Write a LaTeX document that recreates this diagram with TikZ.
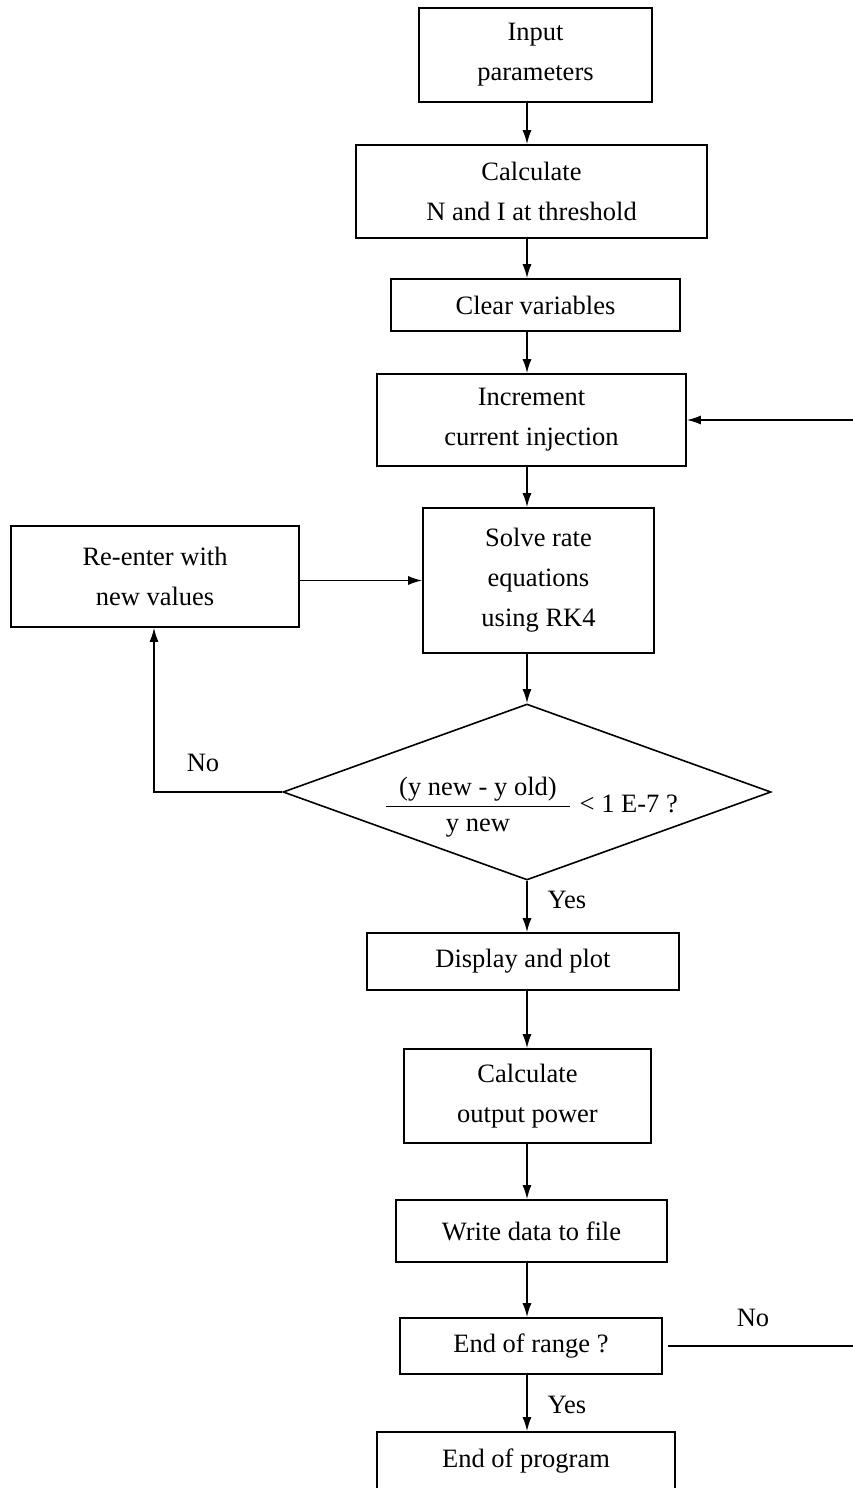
\documentclass[tikz,border=0pt]{standalone}
\usepackage{fontspec}
\setmainfont{Liberation Serif}
\usetikzlibrary{shapes.geometric,arrows.meta}

\tikzset{
	blk/.style={draw=black, line width=1.6pt, inner sep=0pt, align=center,
		font=\fontsize{26.5}{40}\selectfont},
	lbl/.style={inner sep=0pt, font=\fontsize{26.5}{40}\selectfont},
	flow/.style={->, >={Latex[length=14pt,width=9pt]}, line width=1.6pt, draw=black}
}

\begin{document}
\begin{tikzpicture}[x=1pt,y=-1pt]

	\clip (0,0) rectangle (853,1488);

	%%MAIN COLUMN-------------------------------------------
	\coordinate (axis) at (527,0);

	\node [blk, minimum width=233, minimum height=94] (input) at (535.5,55) {Input\\parameters};
	\node [blk, minimum width=351, minimum height=93] (calcNI) at (531.5,191.5) {Calculate\\N and I at threshold};
	\node [blk, minimum width=289, minimum height=52] (clear) at (535.5,305) {Clear variables};
	\node [blk, minimum width=309, minimum height=92] (incr) at (531.5,420) {Increment\\current injection};
	\node [blk, minimum width=231, minimum height=145] (solve) at (538.5,580.5) {Solve rate\\equations\\using RK4};
	\node [blk, minimum width=288, minimum height=101] (reenter) at (155,576.5) {Re-enter with\\new values};

	%%Convergence test
	\node [draw=black, line width=1.6pt, shape=diamond, inner sep=0pt,
		minimum width=488, minimum height=176] (test) at (527,792) {};
	% Text Node
	\node [lbl] (crit) at (532,806) {\setlength{\tabcolsep}{13pt}\renewcommand{\arraystretch}{0.9}%
		\begin{tabular}{c}(y new - y old)\\\hline y new\end{tabular}\hspace{10pt}< 1 E-7 ?};

	\node [blk, minimum width=312, minimum height=57] (display) at (523,961.5) {Display and plot};
	\node [blk, minimum width=247, minimum height=94] (power) at (527.5,1096) {Calculate\\output power};
	\node [blk, minimum width=271, minimum height=62] (write) at (531.5,1231) {Write data to file};
	\node [blk, minimum width=262, minimum height=56] (range) at (531,1346) {End of range ?};
	\node [blk, minimum width=298, minimum height=58] (stop) at (526,1461) {End of program};

	%%ARROWS------------------------------------------------
	\draw [flow] (input.south -| axis) -- (calcNI.north -| axis);
	\draw [flow] (calcNI.south -| axis) -- (clear.north -| axis);
	\draw [flow] (clear.south -| axis) -- (incr.north -| axis);
	\draw [flow] (incr.south -| axis) -- (solve.north -| axis);
	\draw [flow] (solve.south -| axis) -- (test.north);
	\draw [flow] (test.south) -- (display.north -| axis);
	\draw [flow] (display.south -| axis) -- (power.north -| axis);
	\draw [flow] (power.south -| axis) -- (write.north -| axis);
	\draw [flow] (write.south -| axis) -- (range.north -| axis);
	\draw [flow] (range.south -| axis) -- (stop.north -| axis);

	%%No branch of the test
	\coordinate (back) at (154,0);
	\draw [flow] (test.west) -- (test.west -| back) -- (reenter.south -| back);
	\draw [flow] (reenter.east |- solve.west) -- (solve.west);

	%%No branch of end of range (runs out of the frame)
	\coordinate (outer) at (875,0);
	\draw [flow] ([xshift=5pt]range.east) -- (range.east -| outer) -- (incr.east -| outer) -- (incr.east);

	% Text Node
	\node [lbl] (noA) at (203,763) {No};
	% Text Node
	\node [lbl] (yesA) at (567,900) {Yes};
	% Text Node
	\node [lbl] (yesB) at (567,1405) {Yes};
	% Text Node
	\node [lbl] (noB) at (753,1318) {No};

\end{tikzpicture}
\end{document}
